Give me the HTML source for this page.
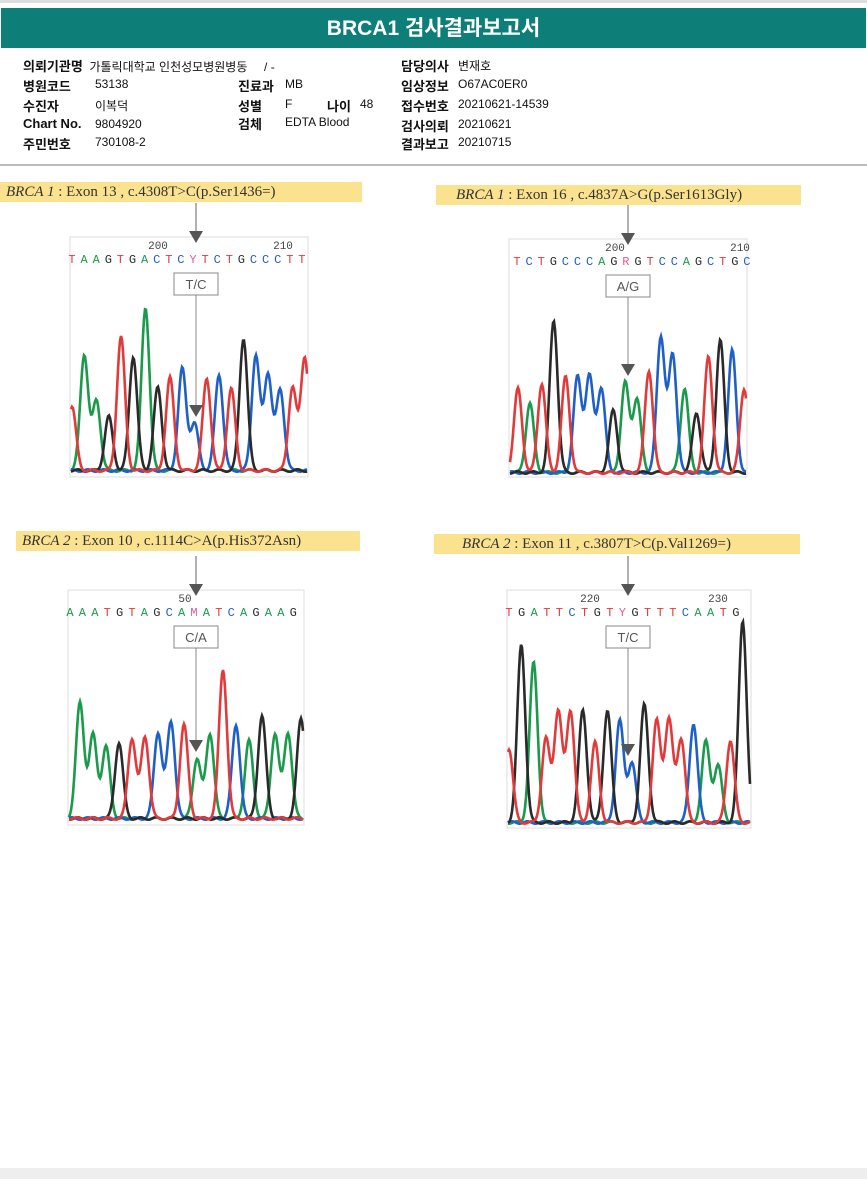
<!DOCTYPE html>
<html><head><meta charset="utf-8">
<style>
body{margin:0;width:867px;height:1179px;background:#fff;position:relative;overflow:hidden;font-family:"Liberation Sans","Noto Sans CJK KR",sans-serif;}
.top{position:absolute;left:0;top:0;width:867px;height:3px;background:#ddd;}
.hdr{position:absolute;left:1px;top:8px;width:865px;height:40px;background:#0e7f78;color:#fff;font-weight:bold;font-size:21px;text-align:center;line-height:42px;}
.info{position:absolute;font-size:12px;color:#111;}
.info b{font-weight:bold;font-size:13px;}
.sep{position:absolute;left:0;top:164px;width:867px;height:2px;background:#bbb;}
.foot{position:absolute;left:0;top:1168px;width:867px;height:11px;background:#eee;}
.cap{position:absolute;background:#fbe28f;height:20px;font-family:"Liberation Serif",serif;font-size:15px;color:#333;line-height:20px;padding-left:6px;box-sizing:border-box;}
.cap i{font-style:italic;}
</style></head><body>
<div class="top"></div>
<div class="hdr">BRCA1 검사결과보고서</div>
<div>
<div class="info" style="left:23px;top:56px"><b>의뢰기관명</b>&nbsp; 가톨릭대학교 인천성모병원병동 &nbsp; &nbsp; / -</div>
<div class="info" style="left:23px;top:76px"><b>병원코드</b></div><div class="info" style="left:95px;top:77px">53138</div>
<div class="info" style="left:23px;top:96px"><b>수진자</b></div><div class="info" style="left:95px;top:97px">이복덕</div>
<div class="info" style="left:23px;top:116px"><b>Chart No.</b></div><div class="info" style="left:95px;top:117px">9804920</div>
<div class="info" style="left:23px;top:134px"><b>주민번호</b></div><div class="info" style="left:95px;top:135px">730108-2</div>
<div class="info" style="left:238px;top:76px"><b>진료과</b></div><div class="info" style="left:285px;top:77px">MB</div>
<div class="info" style="left:238px;top:96px"><b>성별</b></div><div class="info" style="left:285px;top:97px">F</div>
<div class="info" style="left:327px;top:96px"><b>나이</b></div><div class="info" style="left:360px;top:97px">48</div>
<div class="info" style="left:238px;top:114px"><b>검체</b></div><div class="info" style="left:285px;top:115px">EDTA Blood</div>
<div class="info" style="left:401px;top:56px"><b>담당의사</b></div><div class="info" style="left:458px;top:57px">변재호</div>
<div class="info" style="left:401px;top:76px"><b>임상정보</b></div><div class="info" style="left:458px;top:77px">O67AC0ER0</div>
<div class="info" style="left:401px;top:96px"><b>접수번호</b></div><div class="info" style="left:458px;top:97px">20210621-14539</div>
<div class="info" style="left:401px;top:116px"><b>검사의뢰</b></div><div class="info" style="left:458px;top:117px">20210621</div>
<div class="info" style="left:401px;top:134px"><b>결과보고</b></div><div class="info" style="left:458px;top:135px">20210715</div>
</div>
<div class="sep"></div>

<div class="cap" style="left:0;top:182px;width:362px"><i>BRCA 1</i> : Exon 13 , c.4308T&gt;C(p.Ser1436=)</div>
<div class="cap" style="left:436px;top:185px;width:365px;padding-left:20px"><i>BRCA 1</i> : Exon 16 , c.4837A&gt;G(p.Ser1613Gly)</div>
<div class="cap" style="left:16px;top:531px;width:344px"><i>BRCA 2</i> : Exon 10 , c.1114C&gt;A(p.His372Asn)</div>
<div class="cap" style="left:434px;top:534px;width:366px;padding-left:28px"><i>BRCA 2</i> : Exon 11 , c.3807T&gt;C(p.Val1269=)</div>

<svg id="chart" width="867" height="1179" style="position:absolute;left:0;top:0"></svg>
<div class="foot"></div>
<script>
// Panel 1: BRCA1 Exon 13
const p1Colors = ["T","A","A","G","T","G","A","G","T","C","C","T","C","T","G","C","C","C","T","T"];
const p1Heights = [64,116,70,54,134,114,163,83,93,102,47,92,96,82,132,115,97,81,83,114];
const p1Seq = "TAAGTGACTCYTCTGCCCTT";
const p1Ticks = ["200","210"];
// Panel 2: BRCA1 Exon 16
const p2Colors = ["T","A","T","G","T","C","C","C","G","A","A","T","C","C","A","G","T","G","C","T"];
const p2Heights = [84,69,89,152,96,96,96,84,62,90,74,102,136,118,84,60,116,132,122,84];
const p2Seq = "TCTGCCCAGRGTCCAGCTGC";
const p2Ticks = ["200","210"];
// Panel 3: BRCA2 Exon 10
const p3Colors = ["A","A","A","G","T","T","C","C","T","A","A","T","C","A","G","A","A","G"];
const p3Heights = [116,84,72,76,80,82,86,97,94,60,85,149,94,78,103,85,86,100];
const p3Seq = "AAATGTAGCAMATCAGAAG";
const p3Ticks = ["50"];
// Panel 4: BRCA2 Exon 11
const p4Colors = ["T","G","A","T","T","T","G","T","G","C","C","G","T","T","T","C","A","A","T","G"];
const p4Heights = [74,178,160,84,112,112,112,80,112,102,60,118,102,104,84,99,81,57,82,202];
const p4Seq = "TGATTCTGTYGTTTCAATG";
const p4Ticks = ["220","230"];

const COL={A:"#1a9a4a",C:"#1e5fc8",G:"#2a2a2a",T:"#e23a3a",Y:"#e05a9a",R:"#e05a9a",M:"#e05a9a"};
const panels=[
 {c:p1Colors,h:p1Heights,s:p1Seq,t:p1Ticks,bx:70,by:237,bw:238,bh:240,x0:72,dx:12.25,base:472,mark:196,call:"T/C",tx:[158,283],sx:72,sdx:12.1,name:"exon13"},
 {c:p2Colors,h:p2Heights,s:p2Seq,t:p2Ticks,bx:509,by:239,bw:238,bh:238,x0:518,dx:11.9,base:474,mark:628,call:"A/G",tx:[615,740],sx:517,sdx:12.1,name:"exon16"},
 {c:p3Colors,h:p3Heights,s:p3Seq,t:p3Ticks,bx:68,by:590,bw:236,bh:235,x0:80,dx:13,base:820,mark:196,call:"C/A",tx:[185],sx:70,sdx:12.4,name:"exon10"},
 {c:p4Colors,h:p4Heights,s:p4Seq,t:p4Ticks,bx:507,by:590,bw:244,bh:238,x0:509,dx:12.3,base:824,mark:628,call:"T/C",tx:[590,718],sx:509,sdx:12.6,name:"exon11"}
];
const svg=document.getElementById('chart');
const NS="http://www.w3.org/2000/svg";
function mk(tag,attrs,parent){const e=document.createElementNS(NS,tag);for(const k in attrs)e.setAttribute(k,attrs[k]);(parent||svg).appendChild(e);return e;}
panels.forEach(p=>{
 const g=mk('g',{});
 
 
 mk('rect',{x:p.bx,y:p.by,width:p.bw,height:p.bh,fill:'#fff',stroke:'#ddd'},g);
 const xs=i=>p.x0+i*p.dx;
 ["A","C","G","T"].forEach(b=>{
  let d="";
  for(let x=p.bx+1;x<=p.bx+p.bw-1;x+=1){
   let y=0;
   p.c.forEach((cb,i)=>{if(cb===b){const u=(x-xs(i))/4.0;y+=p.h[i]*Math.exp(-u*u/2);}});
   y+=1.5+1.2*Math.sin(x*0.4+b.charCodeAt(0));
   d+=(d?"L":"M")+x+","+(p.base-y).toFixed(1);
  }
  const path=mk('path',{d:d,fill:'none',stroke:COL[b],'stroke-width':2.6},g);
  
  
 });
 for(let i=0;i<p.s.length;i++){
  const t=mk('text',{x:p.sx+i*p.sdx,y:p.by+26,fill:COL[p.s[i]],'font-size':12,'font-family':'Liberation Mono, monospace','text-anchor':'middle'},g);
  t.textContent=p.s[i];
 }
 p.t.forEach((lab,i)=>{const t=mk('text',{x:p.tx[i],y:p.by+12,fill:'#444','font-size':11,'font-family':'Liberation Mono, monospace','text-anchor':'middle'},g);t.textContent=lab;});
 mk('line',{x1:p.mark,y1:p.by-34,x2:p.mark,y2:p.by-6,stroke:'#666','stroke-width':1},g);
 mk('path',{d:`M${p.mark-7},${p.by-6}L${p.mark+7},${p.by-6}L${p.mark},${p.by+6}Z`,fill:'#555'},g);
 const by=p.by+36;
 mk('rect',{x:p.mark-22,y:by,width:44,height:22,fill:'#fff',stroke:'#888'},g);
 const ct=mk('text',{x:p.mark,y:by+16,'text-anchor':'middle','font-size':13,fill:'#555'},g);ct.textContent=p.call;
 const tipY=p.base-p.h[Math.round((p.mark-p.x0)/p.dx)]-8;
 mk('line',{x1:p.mark,y1:by+22,x2:p.mark,y2:tipY-12,stroke:'#888','stroke-width':1},g);
 mk('path',{d:`M${p.mark-7},${tipY-12}L${p.mark+7},${tipY-12}L${p.mark},${tipY}Z`,fill:'#555'},g);
});
</script>
</body></html>
